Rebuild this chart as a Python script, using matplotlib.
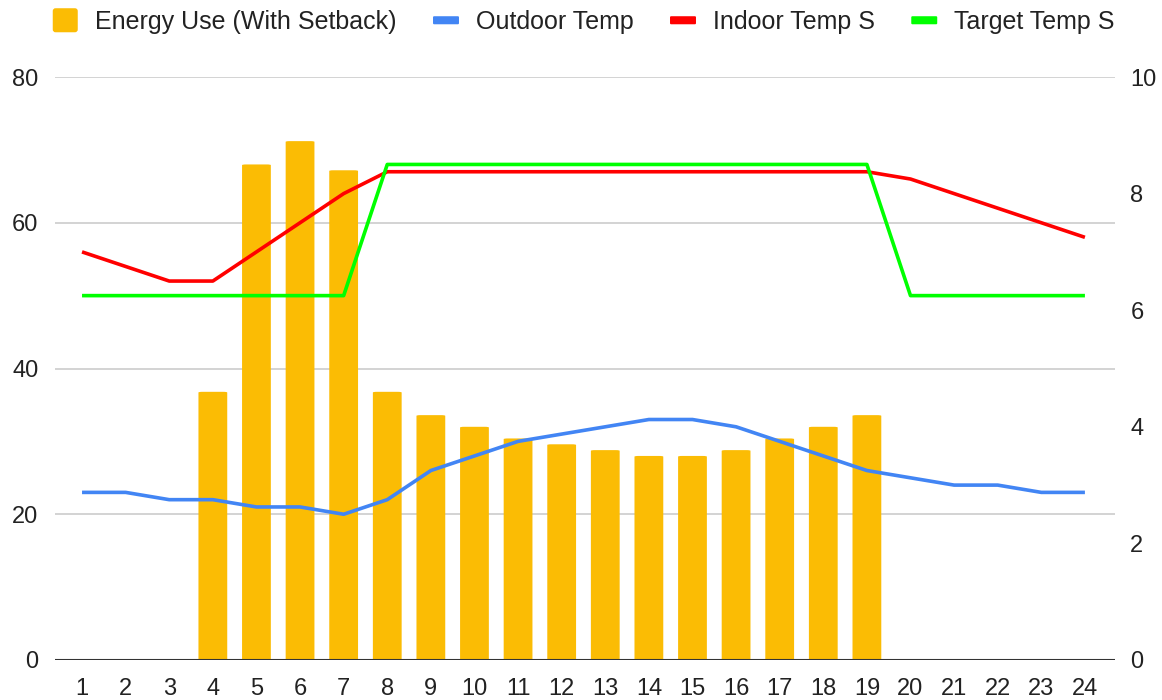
import matplotlib
matplotlib.use("Agg")
import matplotlib.pyplot as plt
from matplotlib.patches import FancyBboxPatch, Patch
from matplotlib.legend_handler import HandlerBase

hours = list(range(1, 25))
energy = [0, 0, 0, 4.6, 8.5, 8.9, 8.4, 4.6, 4.2, 4.0, 3.8, 3.7, 3.6, 3.5, 3.5, 3.6, 3.8, 4.0, 4.2, 0, 0, 0, 0, 0]
outdoor = [23, 23, 22, 22, 21, 21, 20, 22, 26, 28, 30, 31, 32, 33, 33, 32, 30, 28, 26, 25, 24, 24, 23, 23]
indoor = [56, 54, 52, 52, 56, 60, 64, 67, 67, 67, 67, 67, 67, 67, 67, 67, 67, 67, 67, 66, 64, 62, 60, 58]
target = [50, 50, 50, 50, 50, 50, 50, 68, 68, 68, 68, 68, 68, 68, 68, 68, 68, 68, 68, 50, 50, 50, 50, 50]
left_ticks = [0, 20, 40, 60, 80]
right_ticks = [0, 2, 4, 6, 8, 10]
labels = ["Energy Use (With Setback)", "Outdoor Temp", "Indoor Temp S", "Target Temp S"]

C_BAR = "#FBBC04"
C_OUT = "#4285F4"
C_IN = "#FF0000"
C_TGT = "#00FF00"
TXT = "#222222"

plt.rcParams["font.family"] = ["Liberation Sans", "DejaVu Sans"]

fig = plt.figure(figsize=(11.62, 7.0), dpi=100)
ax = fig.add_axes([55/1162, 1-660/700, 1060/1162, (660-77)/700])
ax2 = ax.twinx()
ax3 = ax.twinx()
ax.set_zorder(0)
ax2.set_zorder(1)
ax3.set_zorder(2)
ax2.patch.set_visible(False)
ax3.patch.set_visible(False)

xlim = (0.38, 24.69)
for a in (ax, ax2, ax3):
    a.set_xlim(*xlim)
    for s in a.spines.values():
        s.set_visible(False)

# left axis: grid + ticks
ax.set_ylim(0, 80)
ax.set_yticks(left_ticks)
ax.grid(axis="y", color="#cccccc", linewidth=1.2)
ax.tick_params(axis="y", length=0, labelsize=17, labelcolor=TXT, pad=12)
ax.set_xticks(hours)
ax.set_xticklabels([str(h) for h in hours])
ax.tick_params(axis="x", length=0, labelsize=17, labelcolor=TXT, pad=13)

# right axis: bars
ax2.set_ylim(0, 10)
ax2.set_yticks(right_ticks)
ax2.tick_params(axis="y", length=0, labelsize=17, labelcolor=TXT, pad=11)
bars = ax2.bar(hours, energy, width=0.66, color=C_BAR, zorder=2)
# replace with rounded-top bars (bottom rounding is clipped below zero)
for b in bars:
    h = b.get_height()
    b.set_visible(False)
    if h <= 0:
        continue
    x0, w = b.get_x(), b.get_width()
    fp = FancyBboxPatch((x0, -0.3), w, h + 0.3, boxstyle="round,pad=0,rounding_size=0.09",
                        mutation_aspect=0.13, fc=C_BAR, ec="none", zorder=2)
    ax2.add_patch(fp)

# lines
ax3.set_ylim(0, 80)
ax3.set_yticks([])
for vals, col in ((outdoor, C_OUT), (indoor, C_IN), (target, C_TGT)):
    ax3.plot(hours, vals, color=col, lw=2.6, solid_joinstyle="round", solid_capstyle="butt")
ax3.axhline(0, color="#333333", lw=1.5)


class RectHandler(HandlerBase):
    def __init__(self, w, h, r):
        super().__init__()
        self.w, self.h, self.r = w, h, r

    def create_artists(self, legend, orig_handle, xdescent, ydescent, width, height, fontsize, trans):
        cx = -xdescent + width / 2
        cy = -ydescent + height / 2
        p = FancyBboxPatch((cx - self.w / 2, cy - self.h / 2), self.w, self.h,
                           boxstyle=f"round,pad=0,rounding_size={self.r}",
                           fc=orig_handle.get_facecolor(), ec="none", transform=trans)
        return [p]


handles = [Patch(color=C_BAR), Patch(color=C_OUT), Patch(color=C_IN), Patch(color=C_TGT)]
hmap = {handles[0]: RectHandler(18, 17.3, 2.0),
        handles[1]: RectHandler(18.7, 5.8, 0.8),
        handles[2]: RectHandler(18.7, 5.8, 0.8),
        handles[3]: RectHandler(18.7, 5.8, 0.8)}
leg = fig.legend(handles, labels, handler_map=hmap, loc="center",
                 bbox_to_anchor=(583.5/1162, 1 - 22/700),
                 ncol=4, frameon=False, fontsize=18, handlelength=1.04, handletextpad=0.68,
                 columnspacing=1.45, borderpad=0, borderaxespad=0)
for t in leg.get_texts():
    t.set_color(TXT)

fig.savefig("out.png", dpi=100)
